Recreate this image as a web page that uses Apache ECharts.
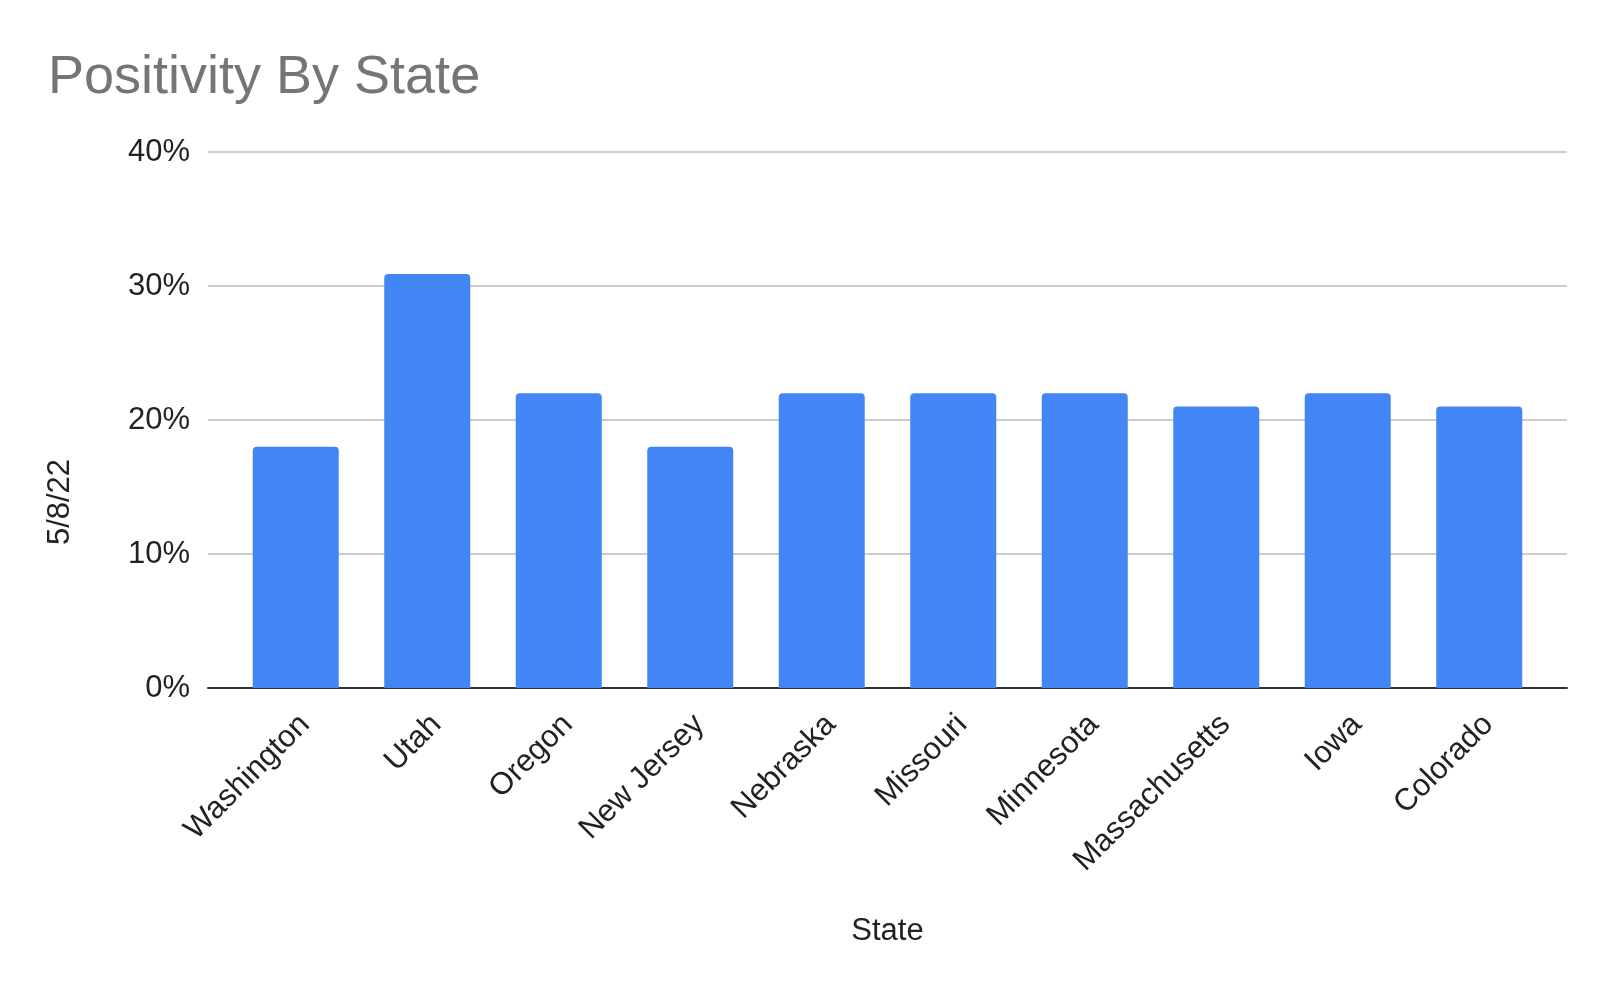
<!DOCTYPE html>
<html>
<head>
<meta charset="utf-8">
<script src="https://cdn.jsdelivr.net/npm/echarts@6/dist/echarts.min.js"></script>
<style>
html,body{margin:0;padding:0;background:#fff;}
#chart{width:1608px;height:993px;}
</style>
</head>
<body>
<div id="chart"></div>
<script>
var categories = ['Washington','Utah','Oregon','New Jersey','Nebraska','Missouri','Minnesota','Massachusetts','Iowa','Colorado'];
var positivity = [0.18,0.309,0.22,0.18,0.22,0.22,0.22,0.21,0.22,0.21];
var yTicks = [0,0.1,0.2,0.3,0.4];
var titleText = 'Positivity By State';
var xName = 'State';
var yName = '5/8/22';

var FONT = '"Liberation Sans", Arial, sans-serif';
var chart = echarts.init(document.getElementById('chart'));
chart.setOption({
  backgroundColor: '#ffffff',
  animation: false,
  title: {
    text: titleText, left: 43, top: 46,
    textStyle: {fontFamily: FONT, fontSize: 54, fontWeight: 'normal', color: '#757575'}
  },
  graphic: [{
    type: 'text', x: 60, y: 502, rotation: Math.PI/2,
    style: {text: yName, fontFamily: FONT, fontSize: 31, fill: '#222', align: 'center', verticalAlign: 'middle'}
  }],
  grid: [
    {left: 208, right: 41, top: 152, bottom: 305},
    {left: 230, right: 63, top: 152, bottom: 305}
  ],
  xAxis: [
    {gridIndex: 0, type: 'value', min: 0, max: 1, axisLabel: {show: false}, axisTick: {show: false},
     splitLine: {show: false}, axisLine: {show: true, lineStyle: {color: '#333', width: 2}}},
    {gridIndex: 1, type: 'category', data: categories,
     axisLine: {show: false}, axisTick: {show: false},
     axisLabel: {rotate: 45, fontFamily: FONT, fontSize: 31, color: '#222', margin: 41, interval: 0,
                 padding: [0, -13, 0, 0]},
     name: xName, nameLocation: 'middle', nameGap: 228,
     nameTextStyle: {fontFamily: FONT, fontSize: 31, color: '#222'}}
  ],
  yAxis: [
    {gridIndex: 0, type: 'value', min: yTicks[0], max: yTicks[yTicks.length-1], interval: 0.1,
     axisLine: {show: false}, axisTick: {show: false},
     axisLabel: {formatter: function(v){return Math.round(v*100)+'%';}, fontFamily: FONT, fontSize: 31, color: '#222', margin: 18},
     splitLine: {show: true, lineStyle: {color: '#cccccc', width: 2}}},
    {gridIndex: 1, type: 'value', min: 0, max: 0.4, interval: 0.1, show: false, splitLine: {show: false}}
  ],
  series: [{
    type: 'bar', xAxisIndex: 1, yAxisIndex: 1, data: positivity,
    barCategoryGap: '34.6%',
    itemStyle: {color: '#4285F4', borderRadius: [4,4,0,0]}
  }]
});
</script>
</body>
</html>
